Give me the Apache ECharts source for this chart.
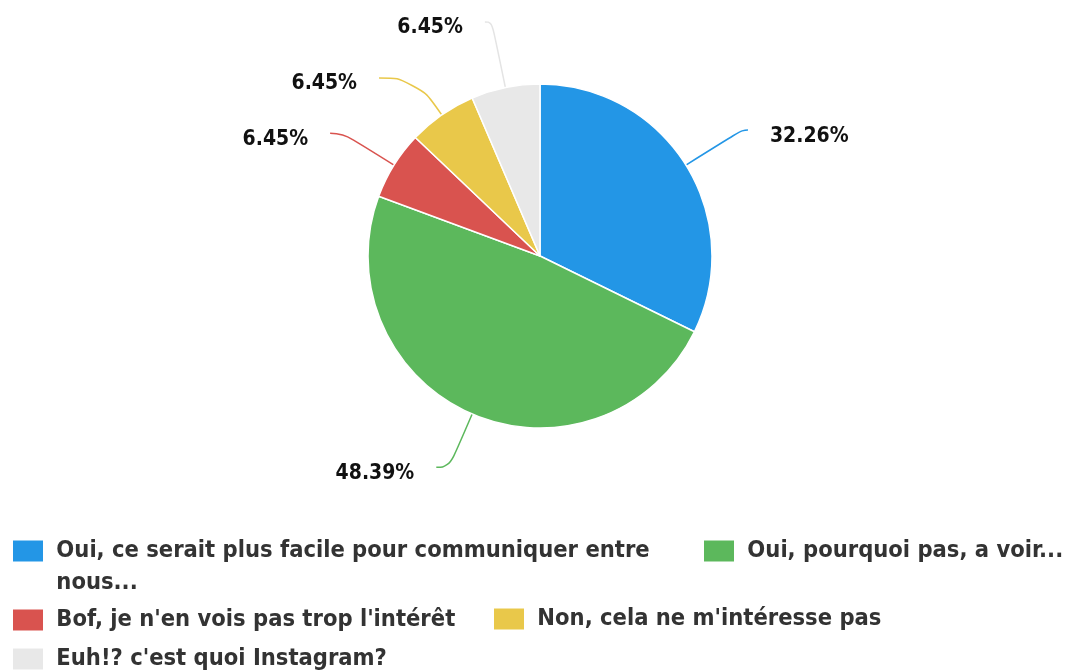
<!DOCTYPE html>
<html>
<head>
<meta charset="utf-8">
<script src="https://cdn.jsdelivr.net/npm/echarts@6/dist/echarts.min.js"></script>
<style>html,body{margin:0;padding:0;background:#fff;}#c{width:1071px;height:672px;}</style>
</head>
<body>
<div id="c"></div>
<script>
var categories = [
  "Oui, ce serait plus facile pour communiquer entre nous...",
  "Oui, pourquoi pas, a voir...",
  "Bof, je n'en vois pas trop l'intérêt",
  "Non, cela ne m'intéresse pas",
  "Euh!? c'est quoi Instagram?"
];
var values = [10, 15, 2, 2, 2];
var colors = ["#2396e6", "#5cb85c", "#d9534f", "#e9c84a", "#e8e8e8"];
var lineColors = ["#2396e6", "#5cb85c", "#d9534f", "#e9c84a", "#e4e4e4"];
var lineLen1 = [66, 58, 60, 45, 67];
var lineLen2 = [6, 13, 13, 37, 7];

var legendPos = [
  {left: 11, top: 503, multi: true},
  {left: 702, top: 535},
  {left: 11, top: 604},
  {left: 492, top: 603},
  {left: 11, top: 643}
];

var LH = 32;
var legends = categories.map(function (name, i) {
  var p = legendPos[i];
  return {
    data: [name],
    left: p.left,
    top: p.top,
    padding: 0,
    orient: 'horizontal',
    icon: 'rect',
    itemWidth: 32,
    itemHeight: 23,
    formatter: function (n) {
      return n === categories[0] ? '\n Oui, ce serait plus facile pour communiquer entre\n nous...' : ' ' + n;
    },
    textStyle: {
      fontFamily: 'DejaVu Sans Condensed',
      fontWeight: 'bold',
      fontSize: 23.5,
      color: '#333',
      lineHeight: LH
    }
  };
});

var chart = echarts.init(document.getElementById('c'), null, {renderer: 'canvas'});
chart.setOption({
  animation: false,
  backgroundColor: '#fff',
  color: colors,
  legend: legends,
  series: [{
    type: 'pie',
    center: [540, 256],
    radius: 172,
    startAngle: 90,
    clockwise: true,
    avoidLabelOverlap: false,
    itemStyle: {borderColor: '#fff', borderWidth: 1.5},
    label: {
      show: true,
      formatter: '\n{d}%',
      fontFamily: 'DejaVu Sans Condensed',
      fontWeight: 'bold',
      fontSize: 21,
      lineHeight: 12,
      color: '#111',
      distanceToLabelLine: 22
    },
    labelLine: {show: true, smooth: 0.5, lineStyle: {width: 1.5}},
    emphasis: {scale: false},
    data: categories.map(function (name, i) {
      return {
        name: name,
        value: values[i],
        itemStyle: {color: colors[i]},
        labelLine: {length: lineLen1[i], length2: lineLen2[i], lineStyle: {color: lineColors[i]}}
      };
    })
  }]
});
</script>
</body>
</html>
